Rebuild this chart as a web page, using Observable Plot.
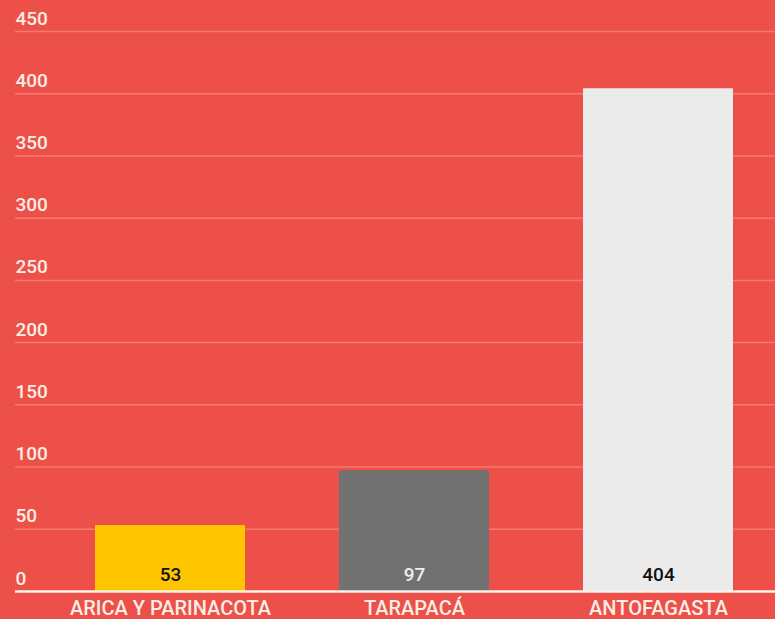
<!DOCTYPE html>
<html>
<head>
<meta charset="utf-8">
<script src="https://cdn.jsdelivr.net/npm/d3@7"></script>
<script src="https://cdn.jsdelivr.net/npm/@observablehq/plot@0.6"></script>
<style>
  html, body { margin: 0; padding: 0; background: #ec5048; }
  #chart svg { display: block; }
</style>
</head>
<body>
<div id="chart"></div>
<script>
const regions = ["ARICA Y PARINACOTA", "TARAPACÁ", "ANTOFAGASTA"];
const values = [53, 97, 404];
const yTicks = [0, 50, 100, 150, 200, 250, 300, 350, 400, 450];
const barColors = ["#ffc600", "#717171", "#ebebeb"];
const valueLabelColors = ["#111111", "#eeeeee", "#111111"];

const data = regions.map((r, i) => ({region: r, value: values[i], lc: valueLabelColors[i]}));

const chart = Plot.plot({
  width: 775,
  height: 619,
  marginTop: 31,
  marginBottom: 28,
  marginLeft: 15,
  marginRight: 0,
  style: {background: "#ec5048", fontFamily: "Roboto, sans-serif", fontSize: "19px"},
  x: {domain: regions, range: [53, 775], paddingInner: 0.385, paddingOuter: 0.172, axis: null},
  y: {domain: [0, 450], axis: null},
  color: {domain: regions, range: barColors},
  marks: [
    Plot.ruleY(yTicks.filter(d => d > 0), {stroke: "#f37a70", strokeWidth: 1.5}),
    Plot.text(yTicks, {y: d => d, frameAnchor: "left", textAnchor: "start", dy: -13, fill: "#fbeee6", fontSize: 19, fontWeight: 500}),
    Plot.barY(data, {x: "region", y: "value", fill: "region"}),
    Plot.ruleY([0], {stroke: "#fff4ea", strokeWidth: 2.5}),
    Plot.text(data, {x: "region", text: d => String(d.value), frameAnchor: "bottom", dy: -10.5, fill: "lc", fontSize: 19, fontWeight: 500}),
    Plot.text(data, {x: "region", text: "region", frameAnchor: "bottom", dy: 23, fill: "#fbeee6", fontSize: 20, fontWeight: 500})
  ]
});
document.getElementById("chart").appendChild(chart);
</script>
</body>
</html>
